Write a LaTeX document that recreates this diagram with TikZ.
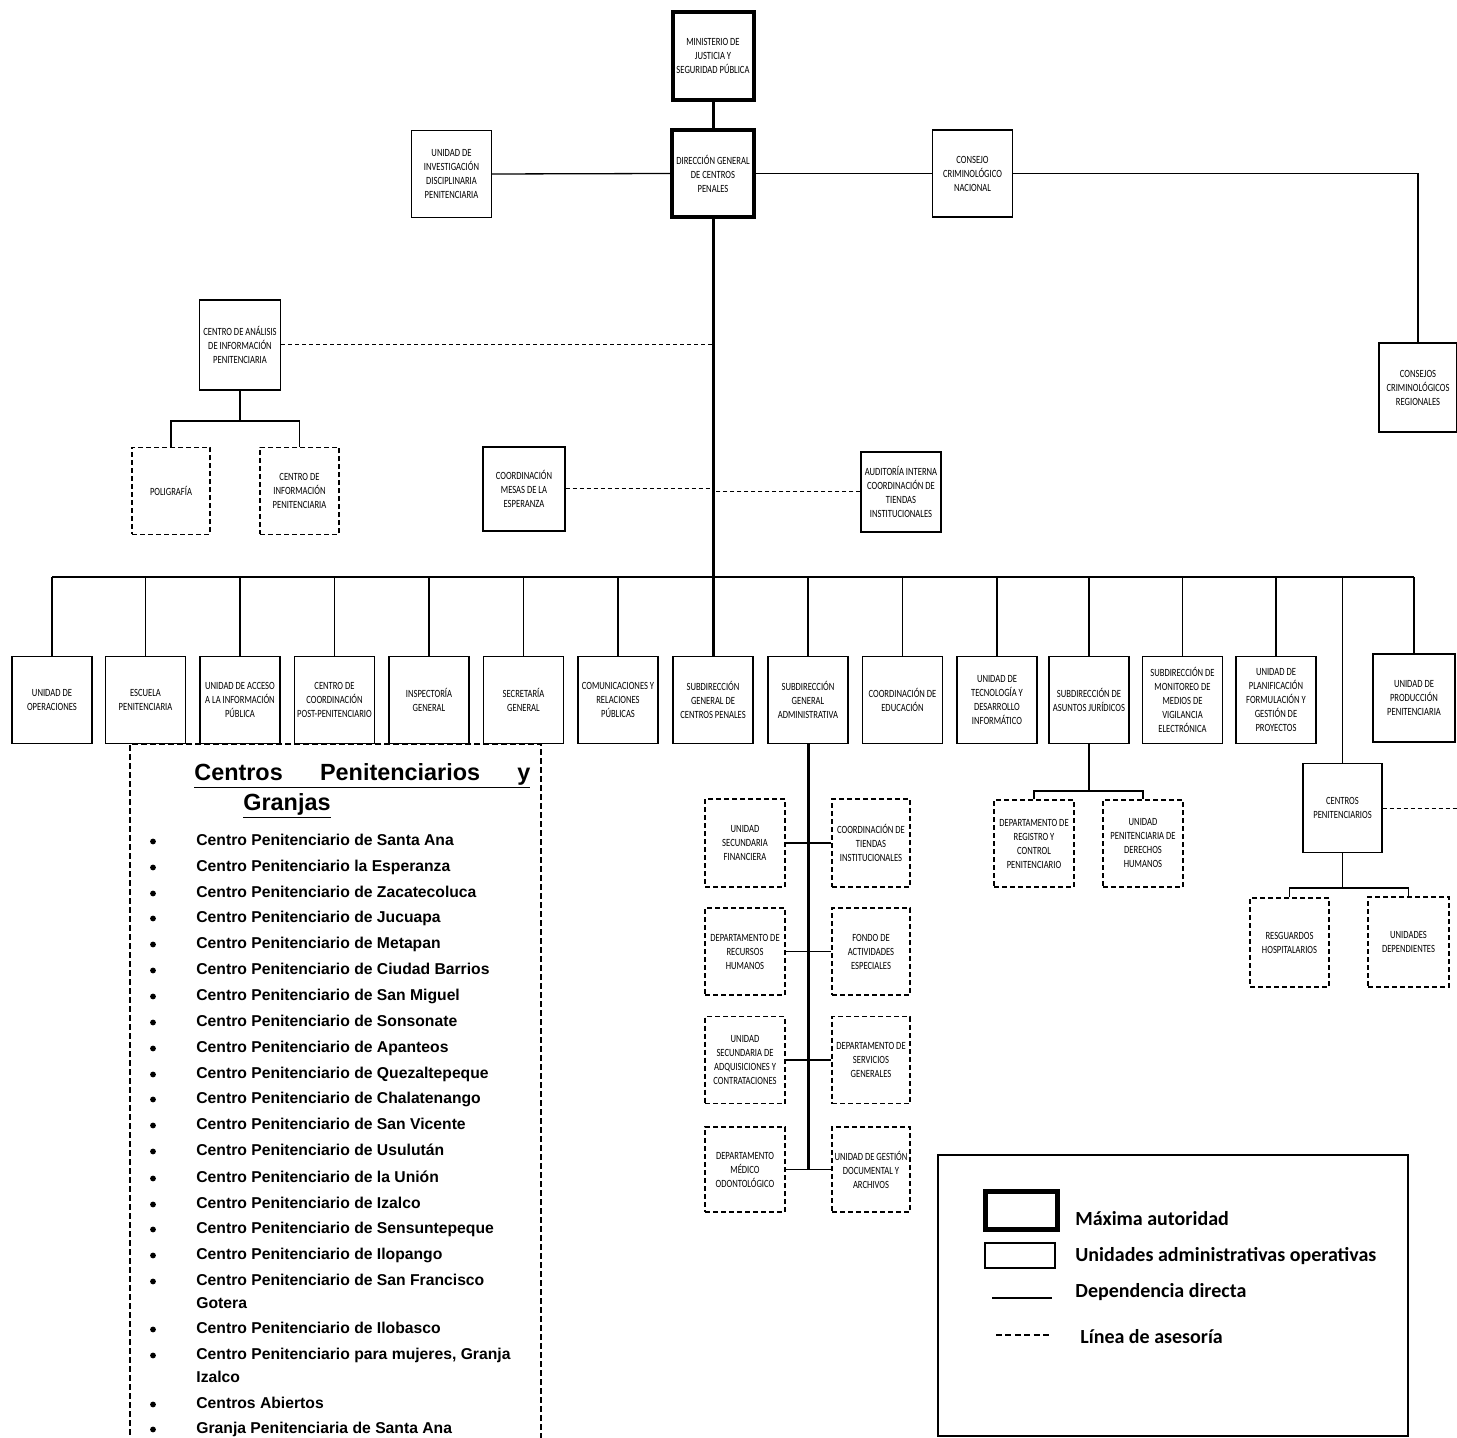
\documentclass[tikz,border=0pt]{standalone}
\usepackage{fontspec}
\setmainfont{Liberation Sans}
\newfontfamily\boxfont[FakeStretch=0.78]{Carlito}
\newfontfamily\legfont{Carlito}
\usetikzlibrary{calc}
\begin{document}
\begin{tikzpicture}[x=0.5pt,y=-0.5pt,
  unitbox/.style={draw, line width=0.6pt, inner sep=0pt, align=center,
    font=\boxfont\fontsize{5.5}{7}\selectfont, minimum width=40pt, minimum height=43.5pt},
  maxbox/.style={unitbox, line width=2pt},
  dunitbox/.style={unitbox, dash pattern=on 2.5pt off 1.5pt},
  link/.style={line width=0.65pt},
  trunkline/.style={line width=1.5pt},
  busline/.style={line width=1pt},
  advice/.style={line width=0.5pt, dash pattern=on 2pt off 1.5pt},
  listitem/.style={anchor=base west, inner sep=0pt, font=\fontsize{7.85}{9}\selectfont\bfseries},
  bulletdot/.style={circle, fill, inner sep=0pt, minimum size=2.9pt},
  legtext/.style={anchor=base west, inner sep=0pt, font=\legfont\bfseries\fontsize{10}{12}\selectfont}
]
\useasboundingbox (0,0) rectangle (1457,1438);
\clip (0,0) rectangle (1457,1438);

% top level
\node[maxbox, minimum width=40.5pt, minimum height=44pt] (min) at (713,56) {MINISTERIO DE\\JUSTICIA Y\\SEGURIDAD PÚBLICA};
\node[maxbox, minimum width=41pt] (dir) at (713,173.5) {DIRECCIÓN GENERAL\\DE CENTROS\\PENALES};
\node[unitbox] (inv) at (451.5,174) {UNIDAD DE\\INVESTIGACIÓN\\DISCIPLINARIA\\PENITENCIARIA};
\node[unitbox] (cons) at (972.5,173.5) {CONSEJO\\CRIMINOLÓGICO\\NACIONAL};
\node[unitbox, minimum width=39pt, minimum height=44.5pt] (reg) at (1418,387.5) {CONSEJOS\\CRIMINOLÓGICOS\\REGIONALES};

\node[unitbox, minimum width=40.5pt, minimum height=45pt] (ana) at (240,345) {CENTRO DE ANÁLISIS\\DE INFORMACIÓN\\PENITENCIARIA};
\node[dunitbox, minimum width=39pt] (pol) at (171,491) {POLIGRAFÍA};
\node[dunitbox, minimum width=39.5pt] (cinf) at (299.5,491) {CENTRO DE\\INFORMACIÓN\\PENITENCIARIA};
\node[unitbox, minimum width=41pt, minimum height=42pt] (mesa) at (524,489) {COORDINACIÓN\\MESAS DE LA\\ESPERANZA};
\node[unitbox, minimum width=40pt, minimum height=40pt] (aud) at (901,492) {AUDITORÍA INTERNA\\COORDINACIÓN DE\\TIENDAS\\INSTITUCIONALES};

% row of units
\node[unitbox] (ope) at (52,700) {UNIDAD DE\\OPERACIONES};
\node[unitbox] (esc) at (145.5,700) {ESCUELA\\PENITENCIARIA};
\node[unitbox] (acc) at (240,700) {UNIDAD DE ACCESO\\A LA INFORMACIÓN\\PÚBLICA};
\node[unitbox] (post) at (334.5,700) {CENTRO DE\\COORDINACIÓN\\POST-PENITENCIARIO};
\node[unitbox] (insp) at (429,700) {INSPECTORÍA\\GENERAL};
\node[unitbox] (sec) at (523.5,700) {SECRETARÍA\\GENERAL};
\node[unitbox] (com) at (618,700) {COMUNICACIONES Y\\RELACIONES\\PÚBLICAS};
\node[unitbox] (scp) at (713,700) {SUBDIRECCIÓN\\GENERAL DE\\CENTROS PENALES};
\node[unitbox] (sga) at (808,700) {SUBDIRECCIÓN\\GENERAL\\ADMINISTRATIVA};
\node[unitbox] (edu) at (902.5,700) {COORDINACIÓN DE\\EDUCACIÓN};
\node[unitbox] (tec) at (997,700) {UNIDAD DE\\TECNOLOGÍA Y\\DESARROLLO\\INFORMÁTICO};
\node[unitbox] (jur) at (1089,700) {SUBDIRECCIÓN DE\\ASUNTOS JURÍDICOS};
\node[unitbox] (mon) at (1182.5,700) {SUBDIRECCIÓN DE\\MONITOREO DE\\MEDIOS DE\\VIGILANCIA\\ELECTRÓNICA};
\node[unitbox] (pla) at (1276,700) {UNIDAD DE\\PLANIFICACIÓN\\FORMULACIÓN Y\\GESTIÓN DE\\PROYECTOS};
\node[unitbox, minimum width=41pt, minimum height=44pt] (pro) at (1414,698) {UNIDAD DE\\PRODUCCIÓN\\PENITENCIARIA};

\node[unitbox, minimum width=39.5pt, minimum height=44.5pt] (cpen) at (1342.5,808) {CENTROS\\PENITENCIARIOS};
\node[dunitbox, minimum width=39.5pt, minimum height=44.5pt] (res) at (1289.5,942.5) {RESGUARDOS\\HOSPITALARIOS};
\node[dunitbox, minimum width=40.5pt, minimum height=45pt] (udep) at (1408.5,942) {UNIDADES\\DEPENDIENTES};

\node[dunitbox] (regi) at (1034,843.5) {DEPARTAMENTO DE\\REGISTRO Y\\CONTROL\\PENITENCIARIO};
\node[dunitbox] (dh) at (1143,843.5) {UNIDAD\\PENITENCIARIA DE\\DERECHOS\\HUMANOS};

% administrative column
\node[dunitbox, minimum height=44pt] (r1l) at (745,843) {UNIDAD\\SECUNDARIA\\FINANCIERA};
\node[dunitbox, minimum width=39pt, minimum height=44pt] (r1r) at (871,843) {COORDINACIÓN DE\\TIENDAS\\INSTITUCIONALES};
\node[dunitbox] (r2l) at (745,951.5) {DEPARTAMENTO DE\\RECURSOS\\HUMANOS};
\node[dunitbox, minimum width=39pt] (r2r) at (871,951.5) {FONDO DE\\ACTIVIDADES\\ESPECIALES};
\node[dunitbox] (r3l) at (745,1060) {UNIDAD\\SECUNDARIA DE\\ADQUISICIONES Y\\CONTRATACIONES};
\node[dunitbox, minimum width=39pt] (r3r) at (871,1060) {DEPARTAMENTO DE\\SERVICIOS\\GENERALES};
\node[dunitbox, minimum height=42.5pt] (r4l) at (745,1169.5) {DEPARTAMENTO\\MÉDICO\\ODONTOLÓGICO};
\node[dunitbox, minimum width=39pt, minimum height=42.5pt] (r4r) at (871,1169.5) {UNIDAD DE GESTIÓN\\DOCUMENTAL Y\\ARCHIVOS};

% connectors
\draw[trunkline] (min.south) -- (dir.north);
\draw[trunkline] (dir.south) -- (scp.north);
\draw[link] (inv.east) -- (dir.west);
\draw[link] (dir.east) -- (cons.west);
\draw[link] (cons.east) -| (reg.north);
\draw[advice] (ana.east) -- (ana.east -| dir.south);
\draw[advice] (mesa.east) -- (mesa.east -| dir.south);
\draw[advice] (aud.west) -- (aud.west -| dir.south);
\coordinate (anab) at (240,421);
\draw[link] (ana.south) -- (anab);
\draw[link] (pol.north) |- (anab) -| (cinf.north);

\coordinate (bus) at (713,577);
\draw[busline] (ope.north |- bus) -- (pro.north |- bus);
\foreach \n in {ope,esc,acc,post,insp,sec,com,sga,edu,tec,jur,mon,pla,pro}
  \draw[link] (\n.north) -- (\n.north |- bus);
\draw[link] (cpen.north |- bus) -- (cpen.north);

\draw[trunkline] (sga.south) -- (sga.south |- r4l.east);
\draw[link] (r1l.east) -- (r1r.west);
\draw[link] (r2l.east) -- (r2r.west);
\draw[link] (r3l.east) -- (r3r.west);
\draw[link] (r4l.east) -- (r4r.west);

\coordinate (jbus) at (1089,791);
\draw[link] (jur.south) -- (jbus);
\draw[link] (regi.north) |- (jbus) -| (dh.north);

\coordinate (cbus) at (1342.5,888);
\draw[link] (cpen.south) -- (cbus);
\draw[link] (res.north) |- (cbus) -| (udep.north);
\coordinate (cpenR) at (1460,808);
\draw[advice] (cpen.east) -- (cpenR);

% Centros Penitenciarios y Granjas
\node[draw, line width=1pt, dash pattern=on 3pt off 1.5pt, minimum width=205.5pt, minimum height=358pt, inner sep=0pt] (granjas) at (335.5,1102) {};
\node[anchor=base west, inner sep=0pt, font=\fontsize{11.7}{14}\selectfont\bfseries] (tit1) at (194,780)
  {\underline{\makebox[168pt][l]{Centros\hfill Penitenciarios\hfill y}}};
\node[anchor=base west, inner sep=0pt, font=\fontsize{11.7}{14}\selectfont\bfseries] (tit2) at (243,810) {\underline{Granjas}};

\foreach \yy/\txt in {840/{Centro Penitenciario de Santa Ana},
  866/{Centro Penitenciario la Esperanza},
  892/{Centro Penitenciario de Zacatecoluca},
  917/{Centro Penitenciario de Jucuapa},
  943/{Centro Penitenciario de Metapan},
  969/{Centro Penitenciario de Ciudad Barrios},
  995/{Centro Penitenciario de San Miguel},
  1021/{Centro Penitenciario de Sonsonate},
  1047/{Centro Penitenciario de Apanteos},
  1073/{Centro Penitenciario de Quezaltepeque},
  1098/{Centro Penitenciario de Chalatenango},
  1124/{Centro Penitenciario de San Vicente},
  1150/{Centro Penitenciario de Usulután},
  1177/{Centro Penitenciario de la Unión},
  1203/{Centro Penitenciario de Izalco},
  1228/{Centro Penitenciario de Sensuntepeque},
  1254/{Centro Penitenciario de Ilopango},
  1280/{Centro Penitenciario de San Francisco},
  1328/{Centro Penitenciario de Ilobasco},
  1354/{Centro Penitenciario para mujeres, Granja},
  1403/{Centros Abiertos},
  1428/{Granja Penitenciaria de Santa Ana}}
{
  \node[listitem] (it\yy) at (196,\yy+5.5) {\txt};
  \node[bulletdot] (bu\yy) at (153,\yy+1.5) {};
}
\node[listitem] (itgot) at (196,1308.5) {Gotera};
\node[listitem] (itiza) at (196,1382.5) {Izalco};

% legend
\node[draw, line width=0.7pt, minimum width=235pt, minimum height=140.5pt, inner sep=0pt] (legend) at (1173,1295.5) {};
\node[draw, line width=2.5pt, minimum width=36pt, minimum height=19pt, inner sep=0pt] (legmax) at (1021,1210) {};
\node[draw, line width=0.6pt, minimum width=35pt, minimum height=12.5pt, inner sep=0pt] (legunit) at (1020,1255.5) {};
\coordinate (ls1) at (992,1298); \coordinate (ls2) at (1052,1298);
\coordinate (ld1) at (996,1335); \coordinate (ld2) at (1052,1335);
\draw[line width=0.6pt] (ls1) -- (ls2);
\draw[line width=1.4pt, dash pattern=on 3pt off 1.7pt] (ld1) -- (ld2);
\node[legtext] (lt1) at (1075,1225) {Máxima autoridad};
\node[legtext] (lt2) at (1075,1261) {Unidades administrativas operativas};
\node[legtext] (lt3) at (1075,1297) {Dependencia directa};
\node[legtext] (lt4) at (1080,1343) {Línea de asesoría};
\end{tikzpicture}
\end{document}
